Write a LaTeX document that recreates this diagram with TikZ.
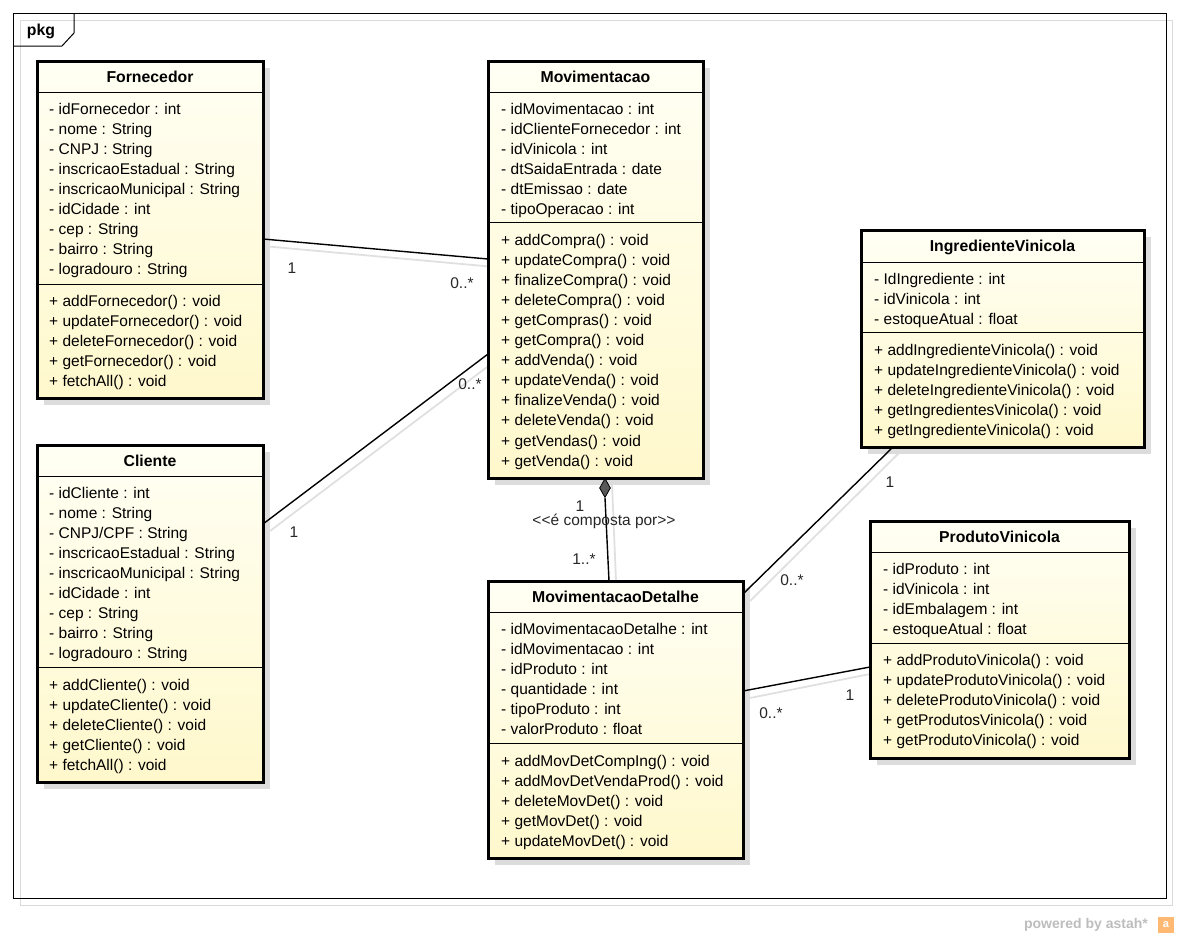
\documentclass[tikz,border=0pt]{standalone}
\usepackage{fontspec}
\setmainfont{Liberation Sans}
\usetikzlibrary{shapes.geometric,calc}
\definecolor{boxtop}{HTML}{FFFFF4}
\definecolor{boxbot}{HTML}{FFF8CC}
\definecolor{shadowgray}{HTML}{DCDCDC}
\definecolor{astahgray}{HTML}{BDBDBD}
\tikzset{
  clsbox/.style={draw=black, line width=3pt, top color=boxtop, bottom color=boxbot, inner sep=0pt},
  clsshadow/.style={fill=shadowgray, draw=none},
  seprule/.style={line width=1pt, black},
  ttl/.style={font=\fontsize{15.8}{18}\selectfont\bfseries, inner sep=0pt, anchor=center},
  mbr/.style={font=\fontsize{15.5}{18}\selectfont, inner sep=0pt, anchor=west, text height=11pt, text depth=3pt, yshift=-2pt},
  lbl/.style={font=\fontsize{15.5}{18}\selectfont, inner sep=0pt, anchor=center, text=black!85},
  assoc/.style={line width=1.4pt, black},
  assocshadow/.style={line width=1.8pt, black!12},
}
\newcommand{\mkclass}[5]{% name, x1, y1, x2, y2
  \fill[clsshadow] (#2+7,#3+7) rectangle (#4+7,#5+7);
  \node[clsbox, minimum width=#4-#2, minimum height=#5-#3] (#1) at ({(#2+#4)/2},{(#3+#5)/2}) {};
}
\begin{document}
\begin{tikzpicture}[x=1pt,y=-1pt]
\useasboundingbox (0,0) rectangle (1178,938);
% frame
\draw[black!15, line width=1pt] (20,20) rectangle (1172,905);
\draw[black, line width=1pt] (13,13) rectangle (1166,898);
\draw[black, line width=1pt] (13,46) -- (62,46) -- (74,33) -- (74,13);
\node[ttl] (pkg) at (41,31) {pkg};

% connector shadows
\coordinate (fmA) at (263,239); \coordinate (fmB) at (488,259);
\coordinate (cmA) at (263,524); \coordinate (cmB) at (488,354);
\coordinate (imA) at (893,447); \coordinate (imB) at (743,594);
\coordinate (pmA) at (870,667); \coordinate (pmB) at (743,691);
\draw[assocshadow] ($(fmA)+(0,7)$) -- ($(fmB)+(7,8)$);
\draw[assocshadow] ($(cmA)+(7,7)$) -- ($(cmB)+(7,7)$);
\draw[assocshadow] ($(imA)+(7,5)$) -- ($(imB)+(7,7)$);
\draw[assocshadow] ($(pmA)+(0,7)$) -- ($(pmB)+(7,7)$);
\draw[assocshadow] (612,484) -- (616,581);

% ===== Fornecedor
\mkclass{forn}{37}{61}{263}{398}
\node[ttl] (fornT) at (150,77) {Fornecedor};
\draw[seprule] (37,92) -- (263,92);
\draw[seprule] (37,284) -- (263,284);
\foreach \t [count=\i from 0] in {- idFornecedor : int, - nome : String, - CNPJ : String, - inscricaoEstadual : String, - inscricaoMunicipal : String, - idCidade : int, - cep : String, - bairro : String, - logradouro : String}
  \node[mbr] (fornA\i) at (49,{108+20.1*\i}) {\t};
\foreach \t [count=\i from 0] in {+ addFornecedor() : void, + updateFornecedor() : void, + deleteFornecedor() : void, + getFornecedor() : void, + fetchAll() : void}
  \node[mbr] (fornM\i) at (49,{300+20.2*\i}) {\t};

% ===== Cliente
\mkclass{cli}{37}{445}{263}{782}
\node[ttl] (cliT) at (150,461) {Cliente};
\draw[seprule] (37,476) -- (263,476);
\draw[seprule] (37,667) -- (263,667);
\foreach \t [count=\i from 0] in {- idCliente : int, - nome : String, - CNPJ/CPF : String, - inscricaoEstadual : String, - inscricaoMunicipal : String, - idCidade : int, - cep : String, - bairro : String, - logradouro : String}
  \node[mbr] (cliA\i) at (49,{492+20.1*\i}) {\t};
\foreach \t [count=\i from 0] in {+ addCliente() : void, + updateCliente() : void, + deleteCliente() : void, + getCliente() : void, + fetchAll() : void}
  \node[mbr] (cliM\i) at (49,{684+20.2*\i}) {\t};

% ===== Movimentacao
\mkclass{mov}{488}{61}{703}{478}
\node[ttl] (movT) at (595.5,77) {Movimentacao};
\draw[seprule] (488,92) -- (703,92);
\draw[seprule] (488,222) -- (703,222);
\foreach \t [count=\i from 0] in {- idMovimentacao : int, - idClienteFornecedor : int, - idVinicola : int, - dtSaidaEntrada : date, - dtEmissao : date, - tipoOperacao : int}
  \node[mbr] (movA\i) at (501,{108+20.1*\i}) {\t};
\foreach \t [count=\i from 0] in {+ addCompra() : void, + updateCompra() : void, + finalizeCompra() : void, + deleteCompra() : void, + getCompras() : void, + getCompra() : void, + addVenda() : void, + updateVenda() : void, + finalizeVenda() : void, + deleteVenda() : void, + getVendas() : void, + getVenda() : void}
  \node[mbr] (movM\i) at (501,{239+20.1*\i}) {\t};

% ===== IngredienteVinicola
\mkclass{ing}{861}{230}{1144}{447}
\node[ttl] (ingT) at (1002.5,247) {IngredienteVinicola};
\draw[seprule] (861,262) -- (1144,262);
\draw[seprule] (861,332) -- (1144,332);
\foreach \t [count=\i from 0] in {- IdIngrediente : int, - idVinicola : int, - estoqueAtual : float}
  \node[mbr] (ingA\i) at (874,{278+20.1*\i}) {\t};
\foreach \t [count=\i from 0] in {+ addIngredienteVinicola() : void, + updateIngredienteVinicola() : void, + deleteIngredienteVinicola() : void, + getIngredientesVinicola() : void, + getIngredienteVinicola() : void}
  \node[mbr] (ingM\i) at (874,{349+20.1*\i}) {\t};

% ===== MovimentacaoDetalhe
\mkclass{det}{488}{581}{743}{858}
\node[ttl] (detT) at (615.5,597) {MovimentacaoDetalhe};
\draw[seprule] (488,612) -- (743,612);
\draw[seprule] (488,743) -- (743,743);
\foreach \t [count=\i from 0] in {- idMovimentacaoDetalhe : int, - idMovimentacao : int, - idProduto : int, - quantidade : int, - tipoProduto : int, - valorProduto : float}
  \node[mbr] (detA\i) at (501,{628+20.1*\i}) {\t};
\foreach \t [count=\i from 0] in {+ addMovDetCompIng() : void, + addMovDetVendaProd() : void, + deleteMovDet() : void, + getMovDet() : void, + updateMovDet() : void}
  \node[mbr] (detM\i) at (501,{760+20.1*\i}) {\t};

% ===== ProdutoVinicola
\mkclass{prod}{870}{521}{1129}{758}
\node[ttl] (prodT) at (999.5,537) {ProdutoVinicola};
\draw[seprule] (870,552) -- (1129,552);
\draw[seprule] (870,643) -- (1129,643);
\foreach \t [count=\i from 0] in {- idProduto : int, - idVinicola : int, - idEmbalagem : int, - estoqueAtual : float}
  \node[mbr] (prodA\i) at (883,{568+20.1*\i}) {\t};
\foreach \t [count=\i from 0] in {+ addProdutoVinicola() : void, + updateProdutoVinicola() : void, + deleteProdutoVinicola() : void, + getProdutosVinicola() : void, + getProdutoVinicola() : void}
  \node[mbr] (prodM\i) at (883,{659+20.1*\i}) {\t};

% ===== connectors
\draw[assoc] (fmA) -- (fmB);
\node[lbl] (l1) at (292,268) {1};
\node[lbl] (l2) at (462,283) {0..*};
\draw[assoc] (cmA) -- (cmB);
\node[lbl] (l3) at (294,532) {1};
\node[lbl] (l4) at (470,384) {0..*};
\draw[assoc] (imA) -- (imB);
\node[lbl] (l5) at (890,482) {1};
\node[lbl] (l6) at (792,580) {0..*};
\draw[assoc] (pmA) -- (pmB);
\node[lbl] (l7) at (850,695) {1};
\node[lbl] (l8) at (771,713) {0..*};
% composition
\node[diamond, fill=black!65, draw=black, line width=0.8pt, inner sep=0pt, minimum width=11pt, minimum height=19pt] (dia) at (605,488) {};
\draw[assoc] (dia.south) -- (609,581);
\node[lbl] (l9) at (580,506) {1};
\node[lbl] (l10) at (604,521) {{<}{<}é composta por{>}{>}};
\node[lbl] (l11) at (584,559) {1..*};

% powered by astah
\node[font=\fontsize{14}{16}\selectfont\bfseries, text=astahgray, anchor=east, inner sep=0pt] (pw) at (1148,925) {powered by astah*};
\fill[orange!55] (1158,917) rectangle (1174,933);
\node[font=\fontsize{11}{12}\selectfont\bfseries, text=white, inner sep=0pt] (logo) at (1166,925) {a};
\end{tikzpicture}
\end{document}
